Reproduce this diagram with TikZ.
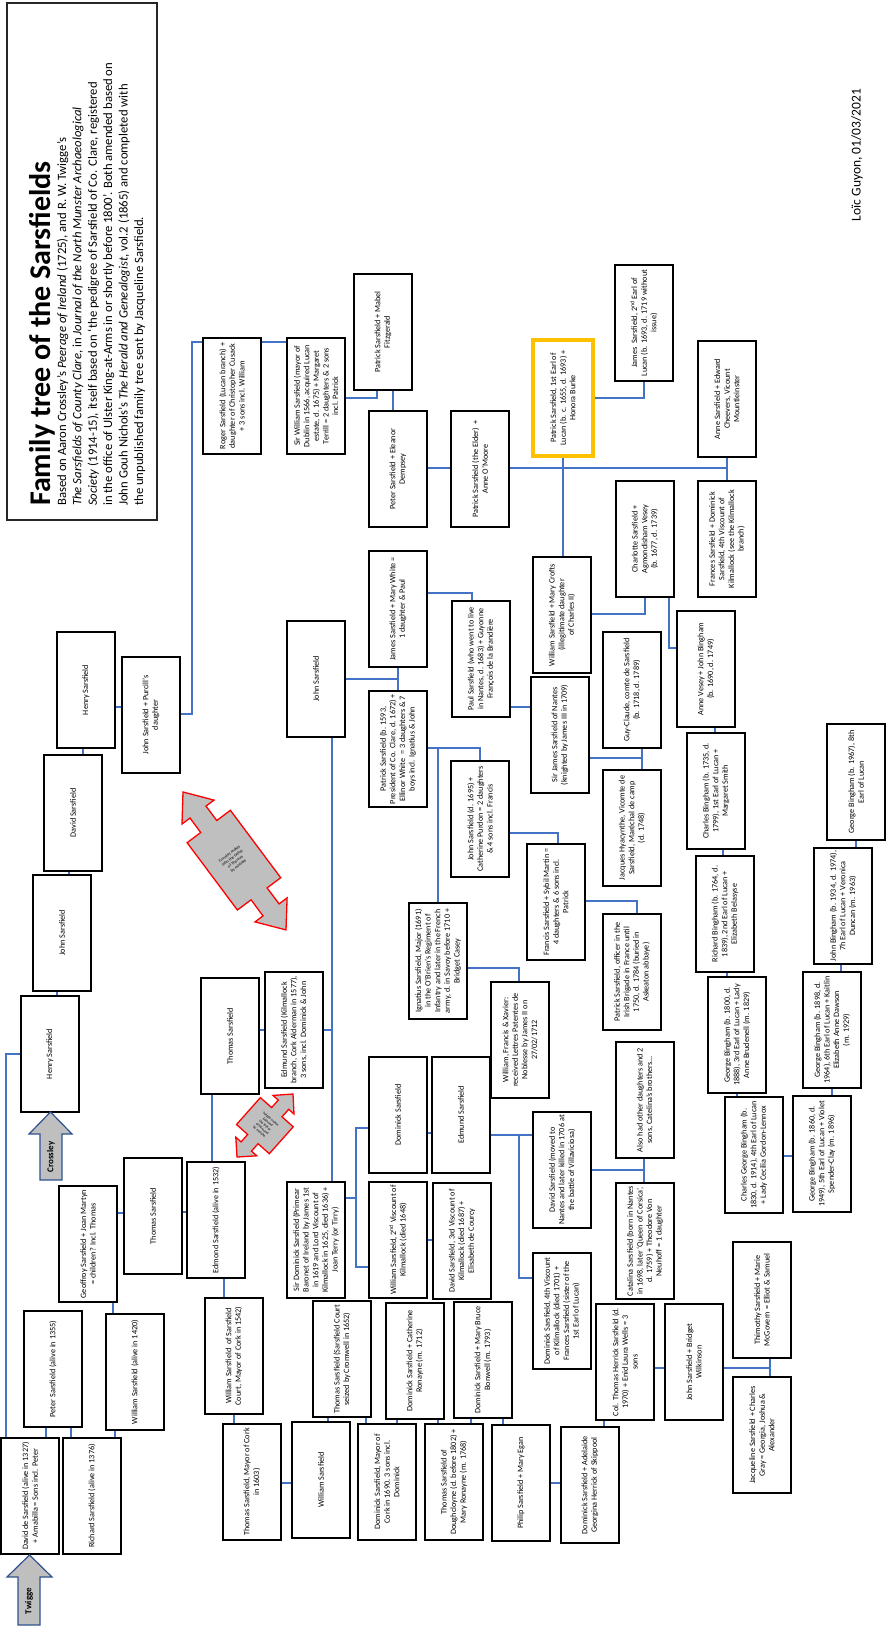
\documentclass[tikz,border=0pt]{standalone}
\usepackage{fontspec}
\setmainfont{Carlito}
\usetikzlibrary{backgrounds}
\definecolor{lnk}{HTML}{4472C4}
\definecolor{gold}{HTML}{FFC000}
\definecolor{arrb}{HTML}{2F528F}
\definecolor{arrg}{HTML}{BFBFBF}
\tikzset{
 box/.style={draw=black, line width=1.5pt, fill=white, rotate=90, minimum width=116pt, minimum height=58pt, inner sep=0.5pt, align=center, font=\fontsize{8.2}{9.6}\selectfont},
 ybox/.style={box, draw=gold, line width=3.5pt, minimum height=60pt},
 link/.style={draw=lnk, line width=1.3pt},
 blockarrow/.style={draw=arrb, line width=1.2pt, fill=arrg},
 redarrow/.style={draw=red, line width=1.3pt, fill=arrg},
 arrowtext/.style={inner sep=0pt, align=center, font=\fontsize{4.2}{5}\selectfont},
 body/.style={rotate=90, anchor=base west, inner sep=0pt, font=\fontsize{12.7}{15}\selectfont},
}
\newcommand\bx[4]{\node[box] (#1) at ({#2+29},{#3+58}) {#4};}
\begin{document}
\begin{tikzpicture}[x=1pt,y=-1pt]
\useasboundingbox (0,0) rectangle (889,1627);
% title block
\draw[line width=1.3pt, draw=black!85] (7,3) rectangle (157,520);
\node[rotate=90, anchor=base west, inner sep=0pt, font=\fontsize{30}{36}\selectfont\bfseries] (title) at (50,506) {Family tree of the Sarsfields};
\node[body] (l1) at (66,506) {Based on Aaron Crossley’s \textit{Peerage of Ireland} (1725), and R.~W. Twigge’s};
\node[body] (l2) at (81.4,506) {\textit{The Sarsfields of County Clare}, in \textit{Journal of the North Munster Archaeological}};
\node[body] (l3) at (96.8,506) {\textit{Society} (1914-15), itself based on ‘the pedigree of Sarsfield of Co. Clare, registered};
\node[body] (l4) at (112.2,506) {in the office of Ulster King-at-Arms in or shortly before 1800’. Both amended based on};
\node[body] (l5) at (127.6,506) {John Gouh Nichols’s \textit{The Herald and Genealogist}, vol.2 (1865) and completed with};
\node[body] (l6) at (143,506) {the unpublished family tree sent by Jacqueline Sarsfield.};
\node[rotate=90, font=\fontsize{13.5}{16}\selectfont] (credit) at (857,155) {Loïc Guyon, 01/03/2021};
% boxes
\bx{dds}{1}{1438}{David de Sarsfield (alive in 1327)\\+ Amabilla = Sons incl. Peter}
\bx{richard}{63}{1438}{Richard Sarsfield (alive in 1376)}
\bx{peter}{24}{1311}{Peter Sarsfield (alive in 1355)}
\bx{w1420}{106}{1314}{William Sarsfield (alive in 1420)}
\bx{geoffroy}{59}{1186}{Geoffroy Sarsfield + Joan Martyn\\= children? Incl. Thomas}
\bx{thomas2}{124}{1158}{Thomas Sarsfield}
\bx{henry3}{21}{996}{Henry Sarsfield}
\bx{john1}{33}{875}{John Sarsfield}
\bx{david}{44}{755}{David Sarsfield}
\bx{henry1}{57}{632}{Henry Sarsfield}
\bx{jp}{122}{657}{John Sarsfield + Purcill’s\\daughter}
\bx{roger}{203}{338}{Roger Sarsfield (Lucan branch) +\\daughter of Christopher Cusack\\+ 3 sons incl. William}
\bx{sirw}{287}{338}{Sir William Sarsfield (mayor of\\Dublin in 1566, acquired Lucan\\estate, d. 1675) + Margaret\\Terrill = 2 daughters \& 2 sons\\incl. Patrick}
\bx{mabel}{354}{274}{Patrick Sarsfield + Mabel\\Fitzgerald}
\bx{peterE}{369}{411}{Peter Sarsfield + Eleanor\\Dempsey}
\bx{patE}{451}{411}{Patrick Sarsfield (the Elder)\ \ +\\Anne O’Moore}
\node[ybox] (earl1) at (563,398) {Patrick Sarsfield, 1st Earl of\\Lucan (b. c. 1655, d. 1693) +\\Honora Burke};
\bx{james2}{615}{265}{James\ \ Sarsfield, 2\textsuperscript{nd} Earl of\\Lucan (b. 1693, d. 1719 without\\issue)}
\bx{anne}{698}{341}{Anne Sarsfield + Edward\\Cheevers, Vicount\\Mountleinster}
\bx{frances}{698}{481}{Frances Sarsfield + Dominick\\Sarsfield, 4th Viscount of\\Kilmallock (see the Kilmallock\\branch)}
\bx{charlotte}{616}{481}{Charlotte Sarsfield +\\Agmondisham Vesey\\(b. 1677, d. 1739)}
\bx{wmc}{533}{557}{William Sarsfield + Mary Crofts\\(illegitimate daughter\\of Charles II)}
\bx{annev}{677}{611}{Anne Vesey + John Bingham\\(b. 1690, d. 1749)}
\bx{guy}{603}{632}{Guy-Claude, comte de Sarsfield\\(b. 1718, d. 1789)}
\bx{jacques}{603}{770}{Jacques Hyacynthe, Vicomte de\\Sarsfield, Maréchal de camp\\(d. 1748)}
\bx{sirj}{531}{677}{Sir James Sarsfield of Nantes\\(knighted by James III in 1709)}
\bx{paul}{452}{601}{Paul Sarsfield (who went to live\\in Nantes, d. 1683) + Guyonne\\François de la Brandière}
\bx{jmw}{369}{551}{James Sarsfield + Mary White =\\1 daughter \& Paul}
\bx{john2}{287}{621}{John Sarsfield}
\bx{pat93}{369}{691}{Patrick Sarsfield (b. 1593,\\President of Co. Clare, d. 1672) +\\Ellinor White\ \ = 3 daughters \& 7\\boys incl. Ignatius \& John}
\bx{johnd}{451}{761}{John Sarsfield (d. 1695) +\\Catherine Purdon = 2 daughters\\\& 4 sons incl. Francis}
\bx{francis}{527}{844}{Francis Sarsfield + Sybil Martin =\\4 daughters \& 6 sons incl.\\Patrick}
\bx{patoff}{603}{914}{Patrick Sarsfield, officer in the\\Irish Brigade in France until\\1750, d. 1784 (buried in\\Askeaton abbaye)}
\bx{ignatius}{409}{903}{Ignatius Sarsfield, Major (1691)\\in the O’Brien’s Regiment of\\Infantry and later in the French\\army, d. in Savoy before 1710 +\\Bridget Casey}
\bx{wfx}{491}{982}{William, Francis \& Xavier:\\received Lettres Patentes de\\Noblesse by James II on\\27/02/1712}
\bx{thomas1}{201}{978}{Thomas Sarsfield}
\bx{edmundk}{265}{972}{Edmund Sarsfield (Kilmallock\\branch, Cork Alderman in 1577),\\3 sons, incl. Dominick \& John}
\bx{edmond}{187}{1162}{Edmond Sarsfield (alive in 1532)}
\bx{dominick}{369}{1057}{Dominick Sarsfield}
\bx{edmund2}{432}{1057}{Edmund Sarsfield}
\bx{davidn}{533}{1112}{David Sarsfield (moved to\\Nantes and later killed in 1706 at\\the battle of Villaviciosa)}
\bx{alsohad}{616}{1042}{Also had other daughters and 2\\sons, Catelina’s brothers...}
\bx{catalina}{616}{1183}{Catalina Sarsfield (born in Nantes\\in 1698, later ‘Queen of Corsica’,\\d. 1759) + Theodore Von\\Neuhoff = 1 daughter}
\bx{sirdom}{287}{1182}{Sir Dominick Sarsfield (Primear\\Baronet of Ireland by James 1st\\in 1619 and Lord Viscount of\\Kilmallock in 1625, died 1636) +\\Joan Terry (or Tirry)}
\bx{william2}{369}{1182}{William Sarsfield, 2\textsuperscript{nd} Viscount of\\Kilmallock (died 1648)}
\bx{david3}{433}{1183}{David Sarsfield, 3rd Viscount of\\Kilmallock (died 1687) +\\Elisabeth de Courcy}
\bx{dom4}{533}{1253}{Dominick Sarsfield, 4th Viscount\\of Kilmallock (died 1701) +\\Frances Sarsfield (sister of the\\1st Earl of Lucan)}
\bx{wsc}{205}{1298}{William Sarsfield\ \ of Sarsfield\\Court, Mayor of Cork in 1542)}
\bx{thomasm}{223}{1424}{Thomas Sarsfield, Mayor of Cork\\in 1603)}
\bx{williamb}{292}{1422}{William Sarsfield}
\bx{thomasc}{313}{1301}{Thomas Sarsfield (Sarsfield Court\\seized by Cromwell in 1652)}
\bx{dommayor}{358}{1424}{Dominick Sarsfield, Mayor of\\Cork in 1690. 3 sons incl.\\Dominick}
\bx{catherine}{386}{1303}{Dominick Sarsfield + Catherine\\Ronayne (m. 1712)}
\bx{dough}{425}{1424}{Thomas Sarsfield of\\Doughcloyne (d. before 1802) +\\Mary Ronayne (m. 1768)}
\bx{marybruce}{454}{1302}{Dominick Sarsfield + Mary Bruce\\Bonwell (m. 1793)}
\bx{philip}{492}{1425}{Philip Sarsfield + Mary Egan}
\bx{adelaide}{561}{1427}{Dominick Sarsfield + Adelaide\\Georgina Herrick of Skippool}
\bx{colthomas}{596}{1304}{Col. Thomas Herrick Sarsfield (d.\\1970) + Enid Laura Wells = 3\\sons}
\bx{johnbw}{665}{1304}{John Sarsfield + Bridget\\Wilkinson}
\bx{thimothy}{733}{1242}{Thimothy Sarsfield + Marie\\McGovern = Elliot \& Samuel}
\bx{jacqueline}{733}{1377}{Jacqueline Sarsfield + Charles\\Gray = Georgia, Joshua \&\\Alexander}
\bx{charlesb}{687}{733}{Charles Bingham (b. 1735, d.\\1799), 1st Earl of Lucan +\\Margaret Smith}
\bx{richardb}{696}{856}{Richard Bingham (b. 1764, d.\\1839), 2nd Earl of Lucan +\\Elizabeth Belasyse}
\bx{george1800}{708}{977}{George Bingham (b. 1800, d.\\1888), 3rd Earl of Lucan + Lady\\Anne Brudenell (m. 1829)}
\bx{charlesg}{725}{1097}{Charles George Bingham (b.\\1830, d. 1914), 4th Earl of Lucan\\+ Lady Cecilia Gordon-Lennox}
\bx{george1860}{793}{1096}{George Bingham (b. 1860, d.\\1949), 5th Earl of Lucan + Violet\\Spender-Clay (m. 1896)}
\bx{george1898}{803}{972}{George Bingham (b. 1898, d.\\1964), 6th Earl of Lucan + Kaitlin\\Elizabeth Anne Dawson\\(m. 1929)}
\bx{john1934}{814}{848}{John Bingham (b. 1934, d. 1974),\\7h Earl of Lucan + Veronica\\Duncan (m. 1963)}
\bx{george1967}{827}{724}{George Bingham (b. 1967), 8th\\Earl of Lucan}
% block arrows
\draw[blockarrow] (29.5,1555) -- (52,1577) -- (40,1577) -- (40,1625) -- (18,1625) -- (18,1577) -- (7,1577) -- cycle;
\node[rotate=90, font=\fontsize{9}{10}\selectfont\bfseries] (twigge) at (29,1601) {Twigge};
\draw[blockarrow] (50.5,1112) -- (72,1134) -- (62,1134) -- (62,1180) -- (40,1180) -- (40,1134) -- (29,1134) -- cycle;
\node[rotate=90, font=\fontsize{9}{10}\selectfont\bfseries] (crossley) at (51,1157) {Crossley};
% red double arrows
\draw[redarrow] (183,792) -- (214.0,800.1) -- (206.0,806.1) -- (216.8,820.5) -- (230.4,810.3) -- (280.7,877.7) -- (267.1,887.9) -- (279.1,903.9) -- (287.1,897.9) -- (286.0,929.9) -- (255.0,921.9) -- (263.0,915.9) -- (251.1,899.8) -- (237.4,910.0) -- (187.1,842.7) -- (200.7,832.5) -- (190.0,818.0) -- (182.0,824.0) -- cycle;
\node[arrowtext, rotate=36.8] (bignote) at (234,860) {Crossley makes\\John the father\\of Thomas\\by mistake};
\draw[redarrow] (237,1157) -- (256.8,1155.8) -- (251.5,1151.1) -- (258.1,1143.7) -- (269.3,1153.7) -- (293.2,1126.8) -- (282.0,1116.8) -- (288.7,1109.3) -- (294.0,1114.0) -- (293,1094) -- (273.0,1095.4) -- (278.3,1100.1) -- (271.6,1107.6) -- (260.4,1097.6) -- (236.5,1124.5) -- (247.7,1134.5) -- (241.1,1141.9) -- (235.8,1137.2) -- cycle;
\node[arrowtext, rotate=-41.6, font=\fontsize{3.6}{4.3}\selectfont] (smallnote) at (265,1125.6) {Twigge makes\\Edmond\\the father\\of Edmund\\by mistake};
% connectors
\begin{scope}[on background layer]
\fill[white] (0,0) rectangle (889,1627);
\draw[link] (henry1.west -| 83,0) -- (david.east -| 83,0);
\draw[link] (henry1.south |- 0,707) -- (jp.north |- 0,707);
\draw[link] (jp.south |- 0,714) -- (192,714) -- (192,342) -- (roger.north |- 0,342);
\draw[link] (roger.south |- 0,342) -- (sirw.north |- 0,342);
\draw[link] (david.west -| 69,0) -- (john1.east -| 69,0);
\draw[link] (john1.west -| 57,0) -- (henry3.east -| 57,0);
\draw[link] (henry3.north |- 0,1054) -- (6,1054) -- (dds.east -| 6,0);
\draw[link] (peter.west -| 46,0) -- (dds.east -| 46,0);
\draw[link] (peter.west -| 71,0) -- (richard.east -| 71,0);
\draw[link] (w1420.west -| 115,0) -- (richard.east -| 115,0);
\draw[link] (geoffroy.west -| 113,0) -- (w1420.east -| 113,0);
\draw[link] (geoffroy.south |- 0,1213) -- (thomas2.north |- 0,1213);
\draw[link] (thomas2.south |- 0,1212) -- (edmond.north |- 0,1212);
\draw[link] (edmond.east -| 212,0) -- (thomas1.west -| 212,0);
\draw[link] (thomas1.south |- 0,1030) -- (edmundk.north |- 0,1030);
\draw[link] (edmundk.south |- 0,1030) -- (332,1030);
\draw[link] (john2.west -| 332,0) -- (sirdom.east -| 332,0);
\draw[link] (edmond.west -| 224,0) -- (wsc.east -| 224,0);
\draw[link] (wsc.west -| 234,0) -- (thomasm.east -| 234,0);
\draw[link] (thomasm.south |- 0,1483) -- (williamb.north |- 0,1483);
\draw[link] (thomasc.west -| 328,0) -- (williamb.east -| 328,0);
\draw[link] (thomasc.west -| 366,0) -- (dommayor.east -| 366,0);
\draw[link] (catherine.west -| 397,0) -- (dommayor.east -| 397,0);
\draw[link] (catherine.west -| 438,0) -- (dough.east -| 438,0);
\draw[link] (marybruce.west -| 471,0) -- (dough.east -| 471,0);
\draw[link] (marybruce.west -| 503,0) -- (philip.east -| 503,0);
\draw[link] (philip.south |- 0,1483) -- (adelaide.north |- 0,1483);
\draw[link] (colthomas.west -| 604,0) -- (adelaide.east -| 604,0);
\draw[link] (colthomas.south |- 0,1368) -- (johnbw.north |- 0,1368);
\draw[link] (johnbw.south |- 0,1368) -- (770,1368);
\draw[link] (thimothy.west -| 770,0) -- (jacqueline.east -| 770,0);
\draw[link] (sirdom.south |- 0,1198) -- (356,1198);
\draw[link] (dominick.north |- 0,1128) -- (356,1128) -- (356,1267) -- (william2.north |- 0,1267);
\draw[link] (william2.south |- 0,1240) -- (david3.north |- 0,1240);
\draw[link] (dominick.south |- 0,1133) -- (edmund2.north |- 0,1133);
\draw[link] (edmund2.south |- 0,1135) -- (davidn.north |- 0,1135);
\draw[link] (519,1135) -- (519,1278) -- (dom4.north |- 0,1278);
\draw[link] (davidn.south |- 0,1170) -- (644,1170);
\draw[link] (alsohad.west -| 644,0) -- (catalina.east -| 644,0);
\draw[link] (john2.south |- 0,679) -- (398,679);
\draw[link] (jmw.west -| 398,0) -- (pat93.east -| 398,0);
\draw[link] (jmw.south |- 0,593) -- (472,593) -- (paul.east -| 472,0);
\draw[link] (paul.south |- 0,707) -- (sirj.north |- 0,707);
\draw[link] (sirj.south |- 0,758) -- (642,758);
\draw[link] (guy.west -| 642,0) -- (jacques.east -| 642,0);
\draw[link] (pat93.south |- 0,748) -- (480,748) -- (johnd.east -| 480,0);
\draw[link] (438,748) -- (ignatius.east -| 438,0);
\draw[link] (johnd.south |- 0,833) -- (558,833) -- (francis.east -| 558,0);
\draw[link] (francis.south |- 0,901) -- (637,901) -- (patoff.east -| 637,0);
\draw[link] (ignatius.south |- 0,968) -- (519,968) -- (wfx.east -| 519,0);
\draw[link] (sirw.south |- 0,398) -- (377,398) -- (mabel.west -| 377,0);
\draw[link] (mabel.west -| 393,0) -- (peterE.east -| 393,0);
\draw[link] (peterE.south |- 0,468) -- (patE.north |- 0,468);
\draw[link] (patE.south |- 0,468) -- (727,468);
\draw[link] (earl1.west -| 563,0) -- (wmc.east -| 563,0);
\draw[link] (anne.west -| 727,0) -- (frances.east -| 727,0);
\draw[link] (earl1.south |- 0,398) -- (644,398) -- (james2.west -| 644,0);
\draw[link] (wmc.south |- 0,614) -- (645,614) -- (charlotte.west -| 645,0);
\draw[link] (charlotte.west -| 669,0) -- (669,648) -- (annev.north |- 0,648);
\draw[link] (annev.west -| 715,0) -- (charlesb.east -| 715,0);
\draw[link] (charlesb.west -| 723,0) -- (richardb.east -| 723,0);
\draw[link] (richardb.west -| 727,0) -- (george1800.east -| 727,0);
\draw[link] (george1800.west -| 737,0) -- (charlesg.east -| 737,0);
\draw[link] (charlesg.south |- 0,1156) -- (george1860.north |- 0,1156);
\draw[link] (george1860.east -| 832,0) -- (george1898.west -| 832,0);
\draw[link] (george1898.east -| 841,0) -- (john1934.west -| 841,0);
\draw[link] (john1934.east -| 856,0) -- (george1967.west -| 856,0);
\end{scope}
\end{tikzpicture}
\end{document}
